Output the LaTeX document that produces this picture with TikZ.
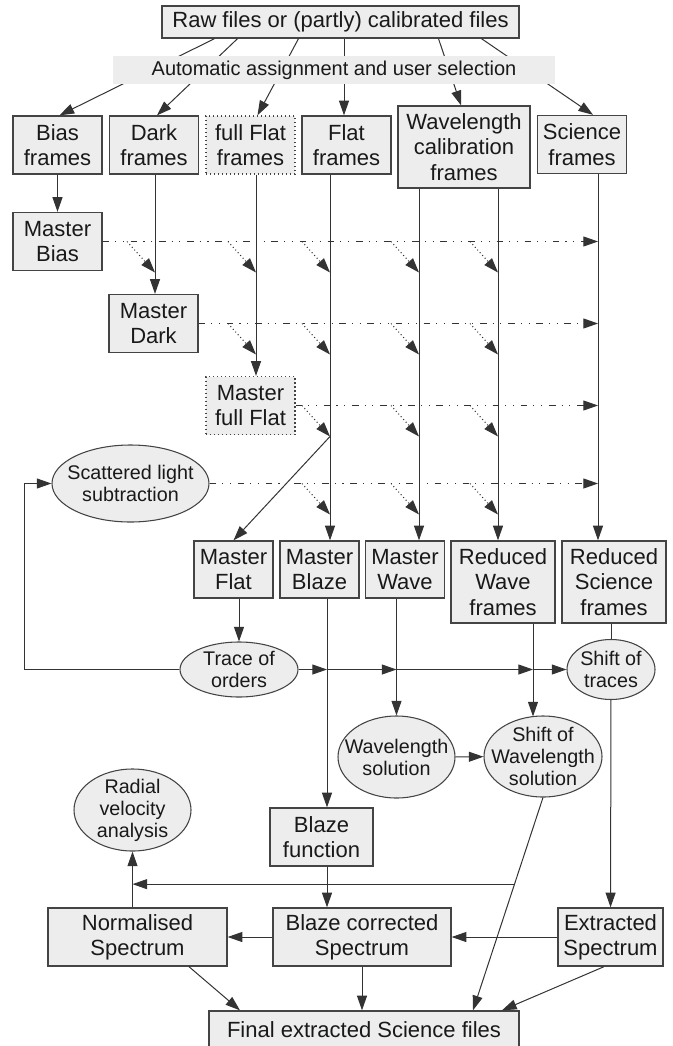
\documentclass[tikz,border=0pt]{standalone}
\usepackage{fontspec}
\setmainfont{Liberation Sans}
\usetikzlibrary{calc,shapes.geometric,arrows.meta}

\definecolor{boxfill}{HTML}{EDEDED}
\definecolor{boxline}{HTML}{444444}
\definecolor{flowline}{HTML}{333333}

\tikzset{
  stage/.style={draw=boxline, fill=boxfill, line width=1pt, align=center, inner sep=1pt,
    text=black!90, font=\fontsize{16.5}{19}\selectfont},
  frame/.style={stage, minimum width=66.75pt, minimum height=43.5pt},
  task/.style={ellipse, draw=boxline, fill=boxfill, line width=0.8pt, align=center,
    inner sep=-10pt, text=black!90, font=\fontsize{14.8}{16.5}\selectfont},
  flow/.style={draw=flowline, line width=0.75pt, -{Triangle[length=11pt,width=7.5pt]}},
  feed/.style={flow, dash pattern=on 5pt off 4.5pt on 0.8pt off 5pt on 0.8pt off 5pt},
  corr/.style={flow, dotted},
}

\begin{document}
\begin{tikzpicture}[x=0.75pt, y=-0.75pt]
  \useasboundingbox (0,0) rectangle (673,1046);

  \node[stage, minimum width=267.75pt, minimum height=24pt] (raw) at (340.5,22) {Raw files or (partly) calibrated files};

  \node[frame]         (bias)    at (57.5,145)  {Bias\\frames};
  \node[frame]         (dark)    at (154,145)   {Dark\\frames};
  \node[frame, dotted] (fflat)   at (250.5,145) {full Flat\\frames};
  \node[frame]         (flat)    at (346.5,145) {Flat\\frames};
  \node[stage, minimum width=99pt, minimum height=61.5pt] (wavecal) at (464,147) {Wavelength\\calibration\\frames};
  \node[frame]         (sci)     at (582,144.5) {Science\\frames};

  \draw[flow] ($(raw.south)+(-126,0)$) -- ($(bias.north)+(2,0)$);
  \draw[flow] ($(raw.south)+(-103,0)$) -- ($(dark.north)+(3,0)$);
  \draw[flow] ($(raw.south)+(-42,0)$)  -- ($(fflat.north)+(7,0)$);
  \draw[flow] ($(raw.south)+(3.5,0)$)  -- ($(flat.north)+(-2.5,0)$);
  \draw[flow] ($(raw.south)+(98,0)$)   -- ($(wavecal.north)+(-3,0)$);
  \draw[flow] ($(raw.south)+(141,0)$)  -- ($(sci.north)+(11,0)$);

  \node[fill=boxfill, minimum width=331.5pt, minimum height=21pt, inner sep=0pt, text=black!90,
    font=\fontsize{15}{18}\selectfont] (assign) at (334,70) {Automatic assignment and user selection};

  \node[frame]         (mbias)  at (57.5,241.5)  {Master\\Bias};
  \node[frame]         (mdark)  at (153.5,323.5) {Master\\Dark};
  \node[frame, dotted] (mfflat) at (250.5,405.5) {Master\\full Flat};
  \node[task, minimum width=117.75pt, minimum height=57.75pt] (scat) at (130.5,483.5) {Scattered light\\subtraction};

  \node[stage, minimum width=59.25pt, minimum height=42.75pt] (mflat)  at (233.5,569.5) {Master\\Flat};
  \node[stage, minimum width=59.25pt, minimum height=42.75pt] (mblaze) at (319.5,569.5) {Master\\Blaze};
  \node[stage, minimum width=59.25pt, minimum height=42.75pt] (mwave)  at (405,569.5)   {Master\\Wave};
  \node[stage, minimum width=78pt, minimum height=61.5pt]     (rwave)  at (503,582)     {Reduced\\Wave\\frames};
  \node[stage, minimum width=78pt, minimum height=61.5pt]     (rsci)   at (614,582)     {Reduced\\Science\\frames};

  \node[task, minimum width=88.5pt, minimum height=41.25pt]  (trace)  at (239,669.5)   {Trace of\\orders};
  \node[task, minimum width=66pt, minimum height=45pt]       (shtr)   at (611,669.5)   {Shift of\\traces};
  \node[task, minimum width=87.75pt, minimum height=61.5pt]  (wsol)   at (396.5,757)   {Wavelength\\solution};
  \node[task, minimum width=88.5pt, minimum height=60.75pt]  (swsol)  at (543,756.5)   {Shift of\\Wavelength\\solution};
  \node[task, minimum width=87.75pt, minimum height=61.5pt]  (radial) at (132.5,810)   {Radial\\velocity\\analysis};

  \node[stage, minimum width=77.25pt, minimum height=43.5pt]  (blazef) at (321.5,837) {Blaze\\function};
  \node[stage, minimum width=134.25pt, minimum height=43.5pt] (norm)   at (137.5,937) {Normalised\\Spectrum};
  \node[stage, minimum width=133.5pt, minimum height=43.5pt]  (bcor)   at (362,937)   {Blaze corrected\\Spectrum};
  \node[stage, minimum width=78.75pt, minimum height=43.5pt]  (extr)   at (610.5,937) {Extracted\\Spectrum};
  \node[stage, minimum width=232.5pt, minimum height=28.5pt]  (final)  at (364,1030)  {Final extracted Science files};

  \coordinate (xDark) at (155,0);
  \coordinate (xFF)   at (256,0);
  \coordinate (xFlat) at (330,0);
  \coordinate (xWa)   at (419,0);
  \coordinate (xWb)   at (498,0);
  \coordinate (xSci)  at (598,0);
  \coordinate (xBlz)  at (327,0);
  \coordinate (xRW)   at (533,0);
  \coordinate (loop)  at (24,483.5);

  \draw[flow] (bias) -- (mbias);
  \draw[flow] (dark.south -| xDark) -- (mdark.north -| xDark);
  \draw[flow] (fflat.south -| xFF) -- (mfflat.north -| xFF);
  \draw[flow] (flat.south -| xFlat) -- (mblaze.north -| xFlat);
  \draw[flow] (wavecal.south -| xWa) -- (mwave.north -| xWa);
  \draw[flow] (wavecal.south -| xWb) -- (rwave.north -| xWb);
  \draw[flow] (sci.south -| xSci) -- (rsci.north -| xSci);

  \draw[feed] (mbias.east) -- (mbias.east -| xSci);
  \draw[feed] (mdark.east) -- (mdark.east -| xSci);
  \draw[feed] (mfflat.east) -- (mfflat.east -| xSci);
  \draw[feed] (scat.east) -- (scat.east -| xSci);

  \foreach \src/\cols in {mbias/{xDark,xFF,xFlat,xWa,xWb}, mdark/{xFF,xFlat,xWa,xWb},
                          mfflat/{xFlat,xWa,xWb}, scat/{xFlat,xWa,xWb}}
    \foreach \col in \cols
      \draw[corr] ($(\src.east -| \col)+(-28,0)$) -- ($(\src.east -| \col)+(0,31)$);

  \coordinate (kink) at ($(mfflat.east -| xFlat)+(0,31)$);
  \draw[flow] (kink) -- (mflat.north);

  \draw[flow] (mflat.south -| trace.north) -- (trace.north);
  \draw[flow] (trace.east) -- (trace.east -| xBlz);
  \draw[flow] (trace.east -| xBlz) -- (trace.east -| wsol.north);
  \draw[flow] (trace.east -| wsol.north) -- (trace.east -| xRW);
  \draw[flow] (trace.east -| xRW) -- (shtr.west);
  \draw[flow] (trace.west) -| (loop) -- (scat.west);

  \draw[flow] (mblaze.south -| xBlz) -- (blazef.north -| xBlz);
  \draw[flow] (blazef.south -| xBlz) -- (bcor.north -| xBlz);
  \draw[flow] (mwave.south -| wsol.north) -- (wsol.north);
  \draw[flow] (wsol) -- (swsol);
  \draw[flow] (rwave.south -| xRW) -- ($(swsol.north)+(-10,1)$);
  \draw[draw=flowline, line width=0.75pt] (rsci.south -| shtr.north) -- (shtr.north);
  \draw[flow] (shtr) -- (extr);

  \draw[flow] (norm.north -| radial.south) -- (radial.south);
  \draw[flow] (swsol.south) -- coordinate[pos=0.407] (tap) ($(final.north)+(109,0)$);
  \draw[flow] (tap) -- (tap -| radial.south);

  \draw[flow] (extr) -- (bcor);
  \draw[flow] (bcor) -- (norm);
  \draw[flow] ($(norm.south)+(51.5,0)$) -- ($(final.north)+(-124,0)$);
  \draw[flow] (bcor.south) -- (bcor.south |- final.north);
  \draw[flow] ($(extr.south)+(-6.5,0)$) -- ($(final.north)+(138,0)$);
\end{tikzpicture}
\end{document}
